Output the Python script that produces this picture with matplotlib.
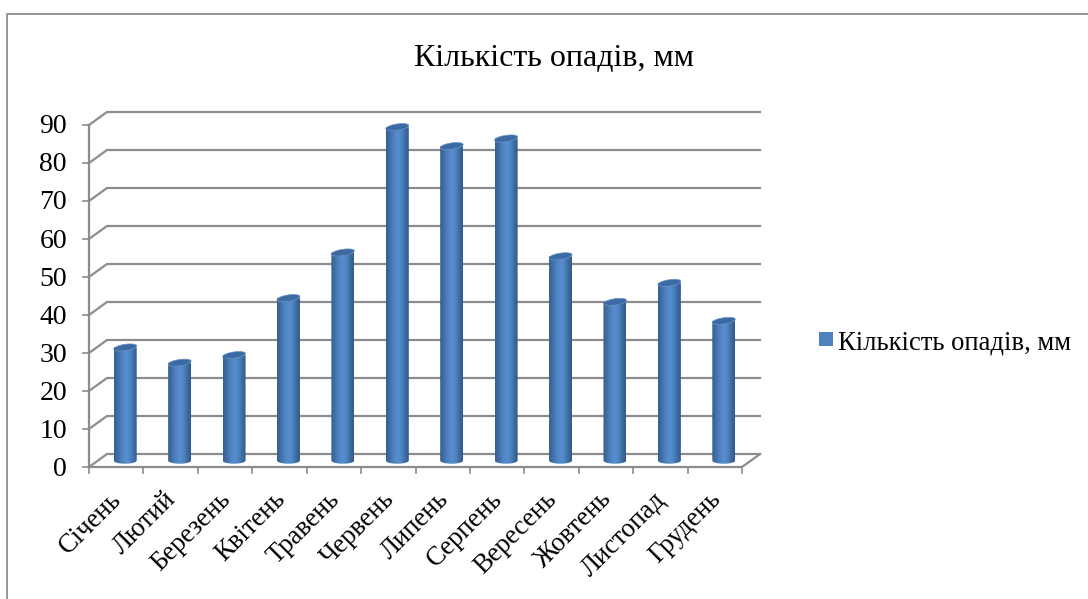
#!/usr/bin/env python3
"""
Monthly precipitation chart, drawn as Excel style 3D cylinders
"""

import numpy as np
import matplotlib
matplotlib.use('Agg')
import matplotlib.pyplot as plt
from matplotlib.patches import PathPatch, Polygon, Rectangle
from matplotlib.path import Path
from matplotlib.colors import LinearSegmentedColormap

plt.rcParams['font.family'] = ['Liberation Serif', 'DejaVu Serif']

months = ['Січень', 'Лютий', 'Березень', 'Квітень', 'Травень', 'Червень',
          'Липень', 'Серпень', 'Вересень', 'Жовтень', 'Листопад', 'Грудень']
rainfall = [30, 26, 28, 43, 55, 88, 83, 85, 54, 42, 47, 37]
y_ticks = [0, 10, 20, 30, 40, 50, 60, 70, 80, 90]
series_name = 'Кількість опадів, мм'

W, H = 1088, 599
GRID = '#8c8c8c'

fig = plt.figure(figsize=(W / 100, H / 100), dpi=100)

# front plane of the 3D box, pixel position
left, right, top, bottom = 89, 742, 125, 467
ax = fig.add_axes([left / W, 1 - bottom / H, (right - left) / W, (bottom - top) / H])
ax.set_xlim(0, 12)
ax.set_ylim(0, 90)
ax.axis('off')

px_x = 12 / (right - left)
px_y = 90 / (bottom - top)
dx = 18 * px_x
dy = 13 * px_y

# back wall gridlines with the short diagonal on the left side
for v in y_ticks:
    ax.plot([0, dx, 12 + dx], [v, v + dy, v + dy], color=GRID, lw=1.6,
            clip_on=False, zorder=1, solid_joinstyle='miter')
    ax.plot([-6 * px_x, 0], [v, v], color=GRID, lw=1.2, clip_on=False, zorder=1)

# floor and axes
ax.plot([0, 12, 12 + dx], [0, 0, dy], color=GRID, lw=1.6, clip_on=False, zorder=1)
ax.plot([0, 0], [0, 90], color=GRID, lw=1.6, clip_on=False, zorder=1)
for i in range(13):
    ax.plot([i, i], [0, -6 * px_y], color=GRID, lw=1.2, clip_on=False, zorder=1)

# cylinder shading
shade = LinearSegmentedColormap.from_list(
    'cyl', ['#34608f', '#3f6ea6', '#4a7dba', '#548aca', '#568dce', '#4c7fbc', '#3d6ba0', '#315a8a'])
grad = np.linspace(0, 1, 64).reshape(1, -1)

half = 11.5 * px_x
cap = 3.2 * px_y
tilt = 1.6 * px_y
t = np.linspace(0, 2 * np.pi, 60)
for i, val in enumerate(rainfall):
    xc = i + 0.5 + 9 * px_x
    x0, x1 = xc - half, xc + half
    y1 = val + 5.5 * px_y
    y0 = 6.5 * px_y
    # bottom arc of the cylinder, then up the left side and across the top
    arc = np.linspace(0, np.pi, 30)
    ax_pts = xc + half * np.cos(arc)
    ay_pts = y0 - cap * np.sin(arc)
    verts = list(zip(ax_pts, ay_pts)) + [(x0, y1), (x1, y1), (x1, y0)]
    body = PathPatch(Path(verts), fc='none', ec='none', transform=ax.transData)
    ax.add_patch(body)
    im = ax.imshow(grad, cmap=shade, extent=(x0, x1, 0, y1), aspect='auto',
                   zorder=3, interpolation='bilinear')
    im.set_clip_path(body)
    top_pts = np.column_stack([xc + half * np.cos(t), y1 + cap * np.sin(t) + tilt * np.cos(t)])
    ax.add_patch(Polygon(top_pts, closed=True, fc='#3c6aa3', ec='#6c94c4',
                         lw=0.5, zorder=4, clip_on=False))

ax.set_xlim(0, 12)
ax.set_ylim(0, 90)

# value labels
for v in y_ticks:
    ax.text(-22 * px_x, v - 2 * px_y, str(v), ha='right', va='center', fontsize=20,
            color='black', clip_on=False)

# month labels, rotated, anchored on their upper right end
for i, name in enumerate(months):
    ax.annotate(name, xy=(i + 0.5, 0), xytext=(-7, -20), textcoords='offset pixels',
                rotation=45, rotation_mode='anchor', ha='right', va='top',
                fontsize=19.2, color='black', annotation_clip=False)

fig.text(554 / W, 1 - 59 / H, series_name, ha='center', va='center', fontsize=23, color='black')

# legend
fig.add_artist(Rectangle((819 / W, 1 - 346 / H), 14 / W, 14 / H, transform=fig.transFigure,
                         fc='#4f81bd', ec='none'))
fig.text(838 / W, 1 - 343 / H, series_name, ha='left', va='center', fontsize=19.2, color='black')

# chart border, only top and left are in the picture
fig.add_artist(plt.Line2D([7 / W, 7 / W, 1 / 1], [0, 1 - 14 / H, 1 - 14 / H],
                          transform=fig.transFigure, color='#8c8c8c', lw=1.3))

fig.savefig('out.png', dpi=100)
